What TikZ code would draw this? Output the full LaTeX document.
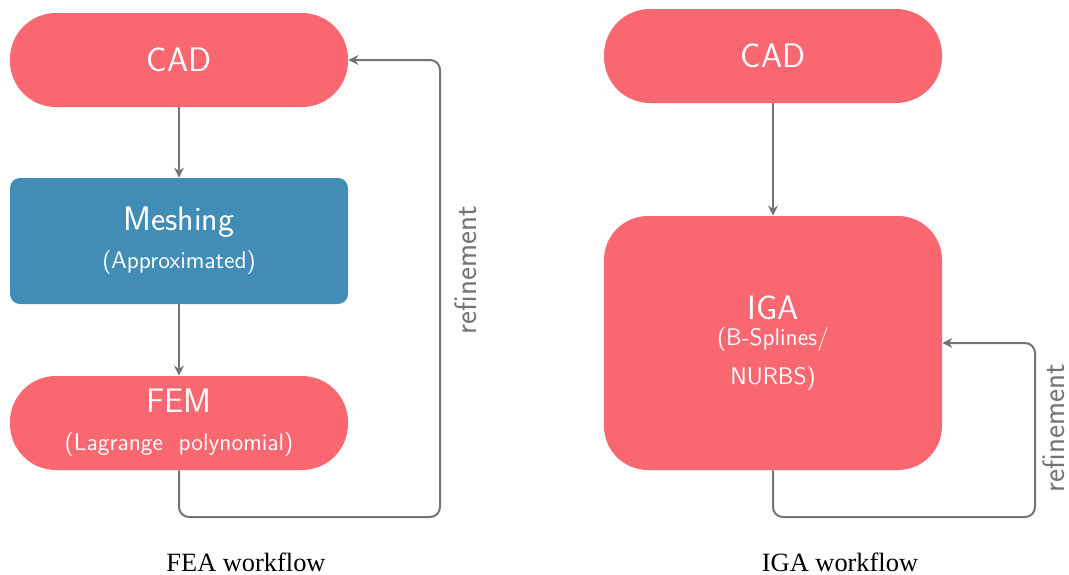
\documentclass[tikz,border=0pt]{standalone}
\usepackage{fontspec}
\newfontfamily\capfont{Liberation Serif}
\usetikzlibrary{arrows.meta}
\definecolor{cadred}{RGB}{249,104,113}
\definecolor{meshblue}{RGB}{65,141,182}
\definecolor{loopgray}{RGB}{115,115,115}

\begin{document}
\begin{tikzpicture}[x=0.5pt, y=-0.5pt,
	box/.style={fill=cadred, text=white, inner sep=0pt, align=center,
		minimum width=169pt, font=\sffamily\fontsize{17}{19}\selectfont},
	pill/.style={box, rounded corners=23pt, minimum height=47pt},
	flow/.style={draw=loopgray, line width=1pt, -{Stealth[length=5pt, width=5pt]}},
	loop/.style={flow, rounded corners=5pt},
	refine/.style={rotate=90, inner sep=0pt, text=loopgray, font=\sffamily\fontsize{15.5}{17}\selectfont},
	caption/.style={anchor=base, inner sep=0pt, font=\capfont\fontsize{13.2}{15}\selectfont}]
		\useasboundingbox (0, 0) rectangle (1069, 574);
		%%%%%%%%%%%%% FEA
		\node [pill] (cadL) at (179, 60) {CAD};
		\node [box, fill=meshblue, rounded corners=5pt, minimum height=63pt] (mesh) at (179, 241)
			{Meshing\\{\fontsize{12}{14}\selectfont (Approximated)}};
		\node [pill] (fem) at (179, 423)
			{FEM\\{\fontsize{12}{14}\selectfont (Lagrange~ polynomial)}};
		\coordinate (fealoop) at (440, 517);
		\node [refine] (refL) at (466, 270) {refinement};
		\node [caption] (capL) at (246, 571) {FEA workflow};
		%%%%%%%%%%%%% IGA
		\node [pill] (cadR) at (773, 56) {CAD};
		\node [box, rounded corners=22pt, minimum height=127pt] (iga) at (773, 343)
			{IGA\\[-6pt]{\fontsize{12}{14}\selectfont (B-Splines/}\\[0.5pt]{\fontsize{12}{14}\selectfont NURBS)}};
		\coordinate (igaloop) at (1035, 517);
		\node [refine] (refR) at (1054, 428) {refinement};
		\node [caption] (capR) at (840, 571) {IGA workflow};
		%%%%%%%%%%%%%
		\draw [flow] (cadL) to (mesh);
		\draw [flow] (mesh) to (fem);
		\draw [loop] (fem.south) |- (fealoop) |- (cadL.east);
		\draw [flow] (cadR) to (iga);
		\draw [loop] (iga.south) |- (igaloop) |- (iga.east);
\end{tikzpicture}
\end{document}
